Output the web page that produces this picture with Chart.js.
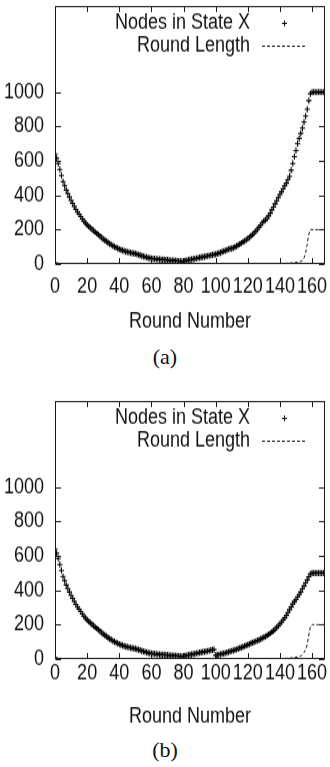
<!DOCTYPE html>
<html><head><meta charset="utf-8">
<script src="https://cdn.jsdelivr.net/npm/chart.js@4"></script>
<style>
html,body{margin:0;padding:0;background:#fff;width:330px;height:767px;overflow:hidden}
.wrap{position:absolute;left:0;width:330px;height:279px;transform:scaleY(1.2);transform-origin:0 0}
#wa{top:0}
#wb{top:395px}
.cap{position:absolute;left:0;width:330px;text-align:center;font-family:'Liberation Serif','Times New Roman',serif;font-size:22px;color:#111;line-height:24px}
</style></head><body>
<div class="wrap" id="wa"><canvas id="ca"></canvas></div>
<div class="wrap" id="wb"><canvas id="cb"></canvas></div>
<div class="cap" style="top:345px">(a)</div>
<div class="cap" style="top:738px">(b)</div>
<script>
const rounds = [
0,1,2,3,4,5,6,7,8,9,
10,11,12,13,14,15,16,17,18,19,
20,21,22,23,24,25,26,27,28,29,
30,31,32,33,34,35,36,37,38,39,
40,41,42,43,44,45,46,47,48,49,
50,51,52,53,54,55,56,57,58,59,
60,61,62,63,64,65,66,67,68,69,
70,71,72,73,74,75,76,77,78,79,
80,81,82,83,84,85,86,87,88,89,
90,91,92,93,94,95,96,97,98,99,
100,101,102,103,104,105,106,107,108,109,
110,111,112,113,114,115,116,117,118,119,
120,121,122,123,124,125,126,127,128,129,
130,131,132,133,134,135,136,137,138,139,
140,141,142,143,144,145,146,147,148,149,
150,151,152,153,154,155,156,157,158,159,
160,161,162,163,164,165,166,167,168];

const nodesA = [
640,615,585,550,515,480,455,430,410,390,
370,352,335,318,302,290,276,262,250,238,
228,218,210,202,194,186,178,170,162,154,
146,139,132,125,118,112,106,101,96,91,
87,83,79,76,73,70,68,66,64,62,
60,57,54,51,48,45,42,39,36,34,
32,31,30,29,28,27,26,26,25,24,
23,22,21,21,20,19,18,17,16,15,
17,19,21,23,25,27,29,31,33,35,
37,39,41,43,45,47,49,51,53,55,
57,60,63,66,70,74,78,82,86,90,
90,94,99,104,110,116,122,128,134,140,
147,155,163,172,181,191,202,214,226,239,
250,257,265,280,296,315,332,350,368,386,
405,420,438,455,470,490,510,545,585,625,
660,700,730,760,790,825,860,900,950,990,
1000,1000,1000,1000,1000,1000,1000,1000,1000];

const lengthA = [
12,8,6,4,3,3,2,2,2,2,
2,2,2,2,2,2,2,2,2,2,
2,2,2,2,2,2,2,2,2,2,
2,2,2,2,2,2,2,2,2,2,
2,2,2,2,2,2,2,2,2,2,
2,2,2,2,2,2,2,2,2,2,
2,2,2,2,2,2,2,2,2,2,
2,2,2,2,2,2,2,2,2,2,
2,2,2,2,2,2,2,2,2,2,
2,2,2,2,2,2,2,2,2,2,
2,2,2,2,2,2,2,2,2,2,
2,2,2,2,2,2,2,2,2,2,
2,2,2,2,2,2,2,2,2,2,
2,2,2,2,2,2,2,2,2,2,
3,3,3,4,4,5,5,6,7,8,
9,10,12,15,22,35,65,115,175,200,
200,200,200,200,200,200,200,200,200];

const nodesB = [
640,615,585,550,515,480,455,430,410,390,
370,352,335,318,302,290,276,262,250,238,
228,218,210,202,194,186,178,170,162,154,
146,139,132,125,118,112,106,101,96,91,
87,83,79,76,73,70,68,66,64,62,
60,57,54,51,48,45,42,39,36,34,
32,31,30,29,28,27,26,26,25,24,
23,22,21,21,20,19,18,17,16,15,
17,19,21,23,25,27,29,31,33,35,
37,39,41,43,45,47,49,51,53,55,
22,24,26,28,30,32,35,38,41,44,
47,50,53,56,60,63,67,71,75,79,
83,87,91,95,99,103,107,111,116,121,
126,131,137,143,150,157,165,174,183,193,
204,215,227,240,254,270,287,303,320,334,
345,360,375,390,408,425,443,460,478,495,
500,500,500,500,500,500,500,500,500];

const lengthB = [
15,10,7,5,4,3,3,2,2,2,
2,2,2,2,2,2,2,2,2,2,
2,2,2,2,2,2,2,2,2,2,
2,2,2,2,2,2,2,2,2,2,
2,2,2,2,2,2,2,2,2,2,
2,2,2,2,2,2,2,2,2,2,
2,2,2,2,2,2,2,2,2,2,
2,2,2,2,2,2,2,2,2,2,
2,2,2,2,2,2,2,2,2,2,
2,2,2,2,2,2,2,2,2,2,
2,2,2,2,2,2,2,2,2,2,
2,2,2,2,2,2,2,2,2,2,
2,2,2,2,2,2,2,2,2,2,
2,2,2,2,2,2,2,2,2,2,
3,3,3,4,4,5,5,6,7,9,
10,12,14,18,26,38,55,85,140,190,
200,200,200,200,200,200,200,200,200];

const xTicks = [0,20,40,60,80,100,120,140,160];
const yTicks = [0,200,400,600,800,1000];
const seriesNames = ['Nodes in State X','Round Length'];
const xTitle = 'Round Number';

const SANS = "'Liberation Sans',Arial,Helvetica,sans-serif";
const INK = '#111';
const FS = 18;

const framePlugin = {
  id:'frame',
  afterDatasetsDraw(chart){
    const {ctx, chartArea:a, scales} = chart;
    ctx.save();
    ctx.strokeStyle = '#1a1a1a'; ctx.lineWidth = 1; ctx.setLineDash([]);
    const l = Math.round(a.left)+0.5, t = Math.round(a.top)+0.5;
    const r = Math.round(a.right)-0.5, b = Math.round(a.bottom)-0.5;
    ctx.strokeRect(l, t, r-l, b-t);
    const L = 4.5;
    ctx.beginPath();
    xTicks.forEach(v=>{
      const px = Math.round(scales.x.getPixelForValue(v))+0.5;
      ctx.moveTo(px, b); ctx.lineTo(px, b-L);
      ctx.moveTo(px, t); ctx.lineTo(px, t+L);
    });
    yTicks.forEach(v=>{
      const py = Math.round(scales.y.getPixelForValue(v))+0.5;
      ctx.moveTo(l, py); ctx.lineTo(l+L+1, py);
      ctx.moveTo(r, py); ctx.lineTo(r-L-1, py);
    });
    ctx.stroke();
    ctx.restore();
  }
};

const legendPlugin = {
  id:'inlegend',
  afterDraw(chart){
    const {ctx, chartArea:a} = chart;
    const ds = chart.data.datasets;
    ctx.save();
    ctx.font = FS + 'px ' + SANS;
    ctx.fillStyle = INK;
    ctx.textAlign = 'right';
    ctx.textBaseline = 'middle';
    const tx = a.left + 195;
    const y0 = a.top + 14, y1 = a.top + 32.5;
    ctx.fillText(ds[0].label, tx, y0);
    ctx.fillText(ds[1].label, tx, y1);
    ctx.strokeStyle = INK; ctx.lineWidth = 1;
    const cx = a.left + 229.5, cy = Math.round(y0)+0.5;
    ctx.beginPath();
    ctx.moveTo(cx-2.5, cy); ctx.lineTo(cx+2.5, cy);
    ctx.moveTo(cx, cy-2.5); ctx.lineTo(cx, cy+2.5);
    ctx.stroke();
    ctx.setLineDash([3,2]);
    ctx.beginPath();
    const ly = Math.round(y1)+0.5;
    ctx.moveTo(a.left+207, ly); ctx.lineTo(a.left+252, ly);
    ctx.stroke();
    ctx.restore();
  }
};

function makeChart(id, nodes, rlen, tickPad){
  return new Chart(document.getElementById(id), {
    type:'line',
    data:{datasets:[
      {label:seriesNames[0], data:rounds.map((r,i)=>({x:r,y:nodes[i]})), showLine:false,
       pointStyle:'cross', pointRadius:2.6, pointBorderWidth:1.1, borderColor:'#000', pointBorderColor:'#000', backgroundColor:'#000'},
      {label:seriesNames[1], data:rounds.map((r,i)=>({x:r,y:rlen[i]})), borderColor:'#111', borderWidth:1,
       borderDash:[3,2], pointRadius:0, tension:0, fill:false}
    ]},
    options:{
      responsive:true, maintainAspectRatio:false, animation:false,
      layout:{padding:{left:0,right:4,top:3.33,bottom:0}},
      plugins:{legend:{display:false}, tooltip:{enabled:false}},
      scales:{
        x:{type:'linear', min:0, max:168,
           afterBuildTicks:s=>{s.ticks = xTicks.map(v=>({value:v}));},
           afterFit:s=>{s.height = 59; s.paddingLeft = 0; s.paddingRight = 0;},
           grid:{display:false, drawTicks:false, tickLength:0}, border:{display:false},
           ticks:{padding:tickPad, font:{family:SANS,size:FS}, color:INK, maxRotation:0, autoSkip:false, callback:v=>String(v)},
           title:{display:true, text:xTitle, font:{family:SANS,size:FS}, color:INK, padding:0}},
        y:{type:'linear', min:0, max:1500,
           afterBuildTicks:s=>{s.ticks = yTicks.map(v=>({value:v}));},
           afterFit:s=>{s.width = 55; s.paddingTop = 0; s.paddingBottom = 0;},
           grid:{display:false, drawTicks:false, tickLength:0}, border:{display:false},
           ticks:{padding:11, font:{family:SANS,size:FS}, color:INK, callback:v=>String(v)}}
      }
    },
    plugins:[framePlugin, legendPlugin]
  });
}
makeChart('ca', nodesA, lengthA, 8.4);
makeChart('cb', nodesB, lengthB, 1.7);
</script>
</body></html>
